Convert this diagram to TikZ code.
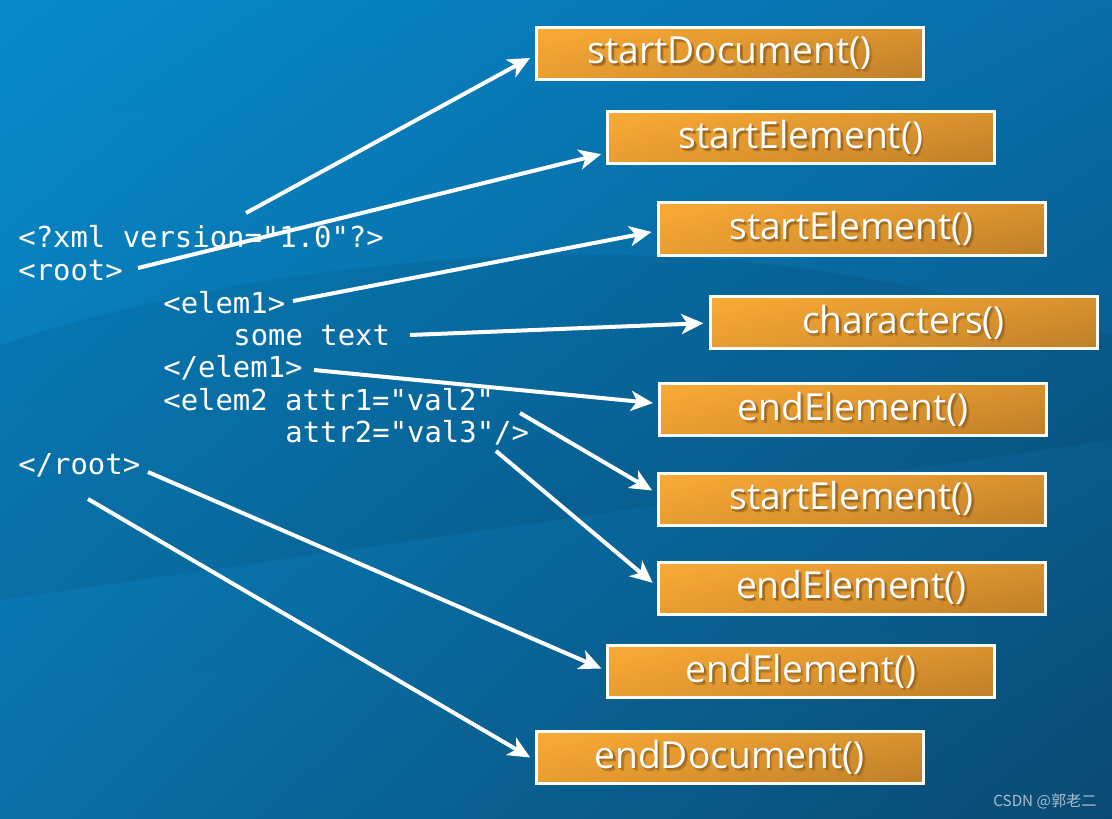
\documentclass[tikz,border=0pt]{standalone}
\usepackage{fontspec}
\usetikzlibrary{arrows.meta,calc,shadings}
\newfontfamily\monof{DejaVu Sans Mono}
\newfontfamily\boxf{Open Sans}
\newfontfamily\cjkf{Noto Sans CJK SC}
\definecolor{bgtl}{HTML}{0789CA}
\definecolor{bgtr}{HTML}{086DA8}
\definecolor{bgbl}{HTML}{0A6FA6}
\definecolor{bgbr}{HTML}{0A4A72}
\definecolor{boxtl}{HTML}{FBAA35}
\definecolor{boxtr}{HTML}{D9922E}
\definecolor{boxbl}{HTML}{E89D31}
\definecolor{boxbr}{HTML}{BE7F29}
\definecolor{shadowc}{HTML}{9C6820}
\definecolor{shadowd}{HTML}{B77A25}
\definecolor{wmc}{HTML}{A9BDCF}
\newcommand\shd[1]{\makebox[0pt][l]{\hspace*{1.4pt}\raisebox{-1.4pt}{\textcolor{shadowd}{#1}}}\makebox[0pt][l]{\hspace*{0.8pt}\raisebox{-0.8pt}{\textcolor{shadowc}{#1}}}#1}
\begin{document}
\begin{tikzpicture}[x=0.5pt,y=-0.5pt,
  code/.style={anchor=base west, inner sep=0pt, text=white, font=\monof\fontsize{14.45}{16}\selectfont},
  box/.style={draw=white, line width=1.5pt, minimum width=193.5pt, minimum height=26pt, inner sep=0pt,
    upper left=boxtl, upper right=boxtr, lower left=boxbl, lower right=boxbr, shade,
    text=white, font=\boxf\fontsize{18.6}{20}\selectfont},
  lbl/.style={anchor=center, inner sep=0pt, text=white, font=\boxf\fontsize{18.6}{20}\selectfont},
  arr/.style={draw=white, line width=2pt, -{Stealth[length=11pt,width=10pt,inset=3pt]}, shorten >=2.5pt}]
\useasboundingbox (0,0) rectangle (1112,818);
\shade[upper left=bgtl, upper right=bgtr, lower left=bgbl, lower right=bgbr] (0,0) rectangle (1112,818);
% subtle swoosh band
\fill[black, opacity=0.06] (0,345) .. controls (200,278) and (430,252) .. (620,255)
  .. controls (800,258) and (950,290) .. (1112,335) -- (1112,440) -- (0,600) -- cycle;

% code lines
\node[code] (l1) at (18,248) {<?xml version="1.0"?>};
\node[code] (l2) at (18,280) {<root>};
\node[code] (l3) at (163,313) {<elem1>};
\node[code] (l4) at (233,345) {some text};
\node[code] (l5) at (163,377) {</elem1>};
\node[code] (l6) at (163,410) {<elem2 attr1="val2"};
\node[code] (l7) at (285,442) {attr2="val3"/>};
\node[code] (l8) at (18,474) {</root>};

% boxes
\node[box] (b1) at (729.5,53.5) {};
\node[box] (b2) at (801,138) {};
\node[box] (b3) at (851.5,229) {};
\node[box] (b4) at (903.5,322.5) {};
\node[box] (b5) at (853,409.5) {};
\node[box] (b6) at (851.5,499) {};
\node[box] (b7) at (851.5,588) {};
\node[box] (b8) at (801,671.5) {};
\node[box] (b9) at (729.5,757.5) {};
\node[lbl] (t1) at ($(b1.center)+(0,1)$) {\shd{startDocument()}};
\node[lbl] (t2) at ($(b2.center)+(0,1)$) {\shd{startElement()}};
\node[lbl] (t3) at ($(b3.center)+(0,1)$) {\shd{startElement()}};
\node[lbl] (t4) at ($(b4.center)+(0,1)$) {\shd{characters()}};
\node[lbl] (t5) at ($(b5.center)+(0,1)$) {\shd{endElement()}};
\node[lbl] (t6) at ($(b6.center)+(0,1)$) {\shd{startElement()}};
\node[lbl] (t7) at ($(b7.center)+(0,1)$) {\shd{endElement()}};
\node[lbl] (t8) at ($(b8.center)+(0,1)$) {\shd{endElement()}};
\node[lbl] (t9) at ($(b9.center)+(0,1)$) {\shd{endDocument()}};

% arrow start points
\coordinate (s1) at (246,213);
\coordinate (s2) at (138,268);
\coordinate (s3) at (293,301);
\coordinate (s4) at (410,335);
\coordinate (s5) at (314,370);
\coordinate (s6) at (520,413);
\coordinate (s7) at (496,451);
\coordinate (s8) at (148,472);
\coordinate (s9) at (88,499);

\draw[arr] (s1) -- ($(b1.west)+(0,2)$);
\draw[arr] (s2) -- ($(b2.west)+(0,15)$);
\draw[arr] (s3) -- ($(b3.west)+(0,2)$);
\draw[arr] (s4) -- ($(b4.west)+(0,0.5)$);
\draw[arr] (s5) -- ($(b5.west)+(0,-6)$);
\draw[arr] (s6) -- ($(b6.west)+(0,-6)$);
\draw[arr] (s7) -- ($(b7.west)+(0,-2)$);
\draw[arr] (s8) -- ($(b8.west)+(0,-1)$);
\draw[arr] (s9) -- ($(b9.west)+(0,2.5)$);

\node[anchor=east, inner sep=0pt, text=wmc, font=\cjkf\fontsize{7.6}{8}\selectfont] (wm) at (1097,801) {CSDN @郭老二};
\end{tikzpicture}
\end{document}
